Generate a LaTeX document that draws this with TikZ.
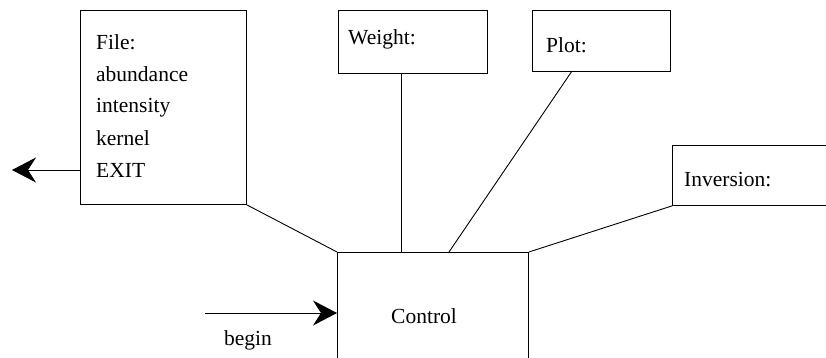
\documentclass[tikz,border=0pt]{standalone}
\usepackage{fontspec}
\setmainfont{Liberation Serif}
\usetikzlibrary{arrows.meta}
\begin{document}
\begin{tikzpicture}[x=1pt,y=-1pt,
  box/.style={draw, line width=0.9pt, rectangle, inner sep=0pt, anchor=north west},
  txt/.style={anchor=base west, inner sep=0pt, font=\fontsize{21.5}{32}\selectfont},
  conn/.style={line width=0.9pt},
  arr/.style={line width=0.9pt, -{Stealth[length=24pt, width=25pt, inset=8pt]}}]
\useasboundingbox (0,0) rectangle (826,358);
% boxes
\node[box, minimum width=166pt, minimum height=194pt] (file) at (80,10) {};
\node[box, minimum width=149pt, minimum height=63pt] (weight) at (338,10) {};
\node[box, minimum width=138pt, minimum height=61pt] (plot) at (532,10) {};
\node[box, minimum width=170pt, minimum height=60pt] (inv) at (672,145) {};
\node[box, minimum width=191pt, minimum height=115pt] (ctrl) at (337,252) {};
% texts
\node[txt] (tfile) at (96,50) {File:};
\node[txt] (tab) at (96,82) {abundance};
\node[txt] (tint) at (96,113) {intensity};
\node[txt] (tker) at (96,146) {kernel};
\node[txt] (texit) at (96,178) {EXIT};
\node[txt] (tw) at (348,45) {Weight:};
\node[txt] (tp) at (546,53) {Plot:};
\node[txt] (ti) at (684,186) {Inversion:};
\node[txt] (tc) at (391,323) {Control};
\node[txt] (tb) at (224,345) {begin};
% connectors
\coordinate (exitend) at (12,170);
\coordinate (beginstart) at (205,313);
\draw[arr] (file.west |- 0,170) -- (exitend);
\draw[arr] (beginstart) -- (ctrl.west |- beginstart);
\draw[conn] (file.south east) -- (ctrl.north west);
\draw[conn] (401,73) -- (401,252);
\draw[conn] (572,71) -- (449,252);
\draw[conn] (inv.south west) -- (ctrl.north east);
\end{tikzpicture}
\end{document}
